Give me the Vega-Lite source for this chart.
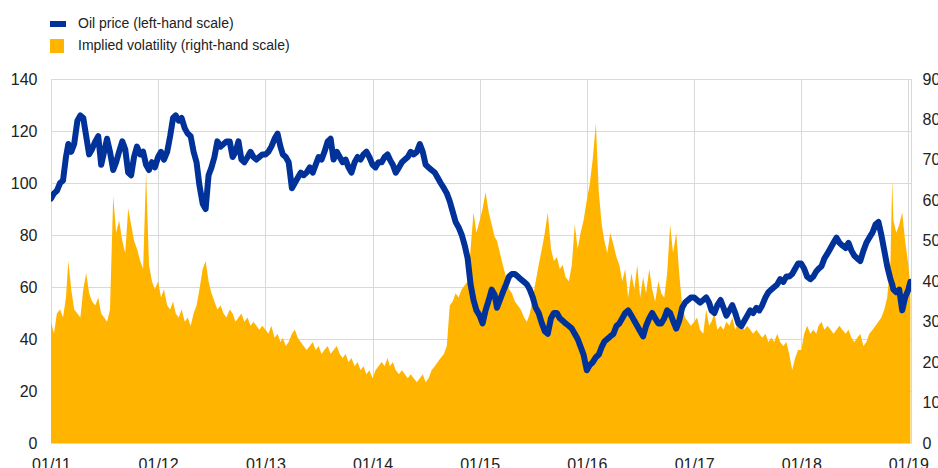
{
"$schema": "https://vega.github.io/schema/vega-lite/v6.json",
"width": 860, "height": 364,
"autosize": {"type": "none"},
"padding": {"left": 51, "top": 79, "right": 27, "bottom": 25},
"datasets": {"d": [
{"t":"2011-01-01","o":94,"v":30},{"t":"2011-01-11","o":96,"v":27},{"t":"2011-01-21","o":97,"v":32},
{"t":"2011-02-01","o":100,"v":33},{"t":"2011-02-11","o":101,"v":31},{"t":"2011-02-21","o":110,"v":36},
{"t":"2011-03-01","o":115,"v":45},{"t":"2011-03-11","o":112,"v":38},{"t":"2011-03-21","o":115,"v":33},
{"t":"2011-04-01","o":124,"v":32},{"t":"2011-04-11","o":126,"v":31},{"t":"2011-04-21","o":125,"v":38},
{"t":"2011-05-01","o":118,"v":42},{"t":"2011-05-11","o":111,"v":37},{"t":"2011-05-21","o":113,"v":35},
{"t":"2011-06-01","o":116,"v":34},{"t":"2011-06-11","o":118,"v":36},{"t":"2011-06-21","o":107,"v":32},
{"t":"2011-07-01","o":112,"v":31},{"t":"2011-07-11","o":117,"v":30},{"t":"2011-07-21","o":112,"v":33},
{"t":"2011-08-01","o":105,"v":61},{"t":"2011-08-11","o":108,"v":52},{"t":"2011-08-21","o":112,"v":55},
{"t":"2011-09-01","o":116,"v":50},{"t":"2011-09-11","o":113,"v":47},{"t":"2011-09-21","o":104,"v":58},
{"t":"2011-10-01","o":103,"v":54},{"t":"2011-10-11","o":110,"v":50},{"t":"2011-10-21","o":114,"v":48},
{"t":"2011-11-01","o":111,"v":45},{"t":"2011-11-11","o":112,"v":43},{"t":"2011-11-21","o":107,"v":67},
{"t":"2011-12-01","o":105,"v":44},{"t":"2011-12-11","o":108,"v":40},{"t":"2011-12-21","o":106,"v":38},
{"t":"2012-01-01","o":110,"v":40},{"t":"2012-01-11","o":112,"v":36},{"t":"2012-01-21","o":109,"v":38},
{"t":"2012-02-01","o":112,"v":34},{"t":"2012-02-11","o":118,"v":33},{"t":"2012-02-21","o":125,"v":35},
{"t":"2012-03-01","o":126,"v":32},{"t":"2012-03-11","o":124,"v":31},{"t":"2012-03-21","o":125,"v":33},
{"t":"2012-04-01","o":121,"v":30},{"t":"2012-04-11","o":119,"v":31},{"t":"2012-04-21","o":118,"v":29},
{"t":"2012-05-01","o":112,"v":32},{"t":"2012-05-11","o":108,"v":34},{"t":"2012-05-21","o":99,"v":38},
{"t":"2012-06-01","o":92,"v":43},{"t":"2012-06-11","o":90,"v":45},{"t":"2012-06-21","o":103,"v":40},
{"t":"2012-07-01","o":106,"v":37},{"t":"2012-07-11","o":110,"v":35},{"t":"2012-07-21","o":116,"v":33},
{"t":"2012-08-01","o":114,"v":34},{"t":"2012-08-11","o":115,"v":32},{"t":"2012-08-21","o":116,"v":31},
{"t":"2012-09-01","o":116,"v":33},{"t":"2012-09-11","o":110,"v":32},{"t":"2012-09-21","o":112,"v":30},
{"t":"2012-10-01","o":116,"v":31},{"t":"2012-10-11","o":109,"v":32},{"t":"2012-10-21","o":108,"v":30},
{"t":"2012-11-01","o":110,"v":31},{"t":"2012-11-11","o":112,"v":29},{"t":"2012-11-21","o":110,"v":30},
{"t":"2012-12-01","o":109,"v":29},{"t":"2012-12-11","o":110,"v":28},{"t":"2012-12-21","o":111,"v":29},
{"t":"2013-01-01","o":111,"v":28},{"t":"2013-01-11","o":112,"v":27},{"t":"2013-01-21","o":114,"v":29},
{"t":"2013-02-01","o":117,"v":26},{"t":"2013-02-11","o":119,"v":27},{"t":"2013-02-21","o":114,"v":25},
{"t":"2013-03-01","o":111,"v":26},{"t":"2013-03-11","o":110,"v":24},{"t":"2013-03-21","o":108,"v":25},
{"t":"2013-04-01","o":98,"v":27},{"t":"2013-04-11","o":100,"v":28},{"t":"2013-04-21","o":102,"v":26},
{"t":"2013-05-01","o":104,"v":25},{"t":"2013-05-11","o":103,"v":24},{"t":"2013-05-21","o":104,"v":23},
{"t":"2013-06-01","o":106,"v":24},{"t":"2013-06-11","o":104,"v":25},{"t":"2013-06-21","o":107,"v":23},
{"t":"2013-07-01","o":110,"v":24},{"t":"2013-07-11","o":109,"v":22},{"t":"2013-07-21","o":112,"v":23},
{"t":"2013-08-01","o":116,"v":24},{"t":"2013-08-11","o":117,"v":22},{"t":"2013-08-21","o":109,"v":23},
{"t":"2013-09-01","o":112,"v":24},{"t":"2013-09-11","o":110,"v":22},{"t":"2013-09-21","o":108,"v":21},
{"t":"2013-10-01","o":109,"v":22},{"t":"2013-10-11","o":106,"v":20},{"t":"2013-10-21","o":104,"v":21},
{"t":"2013-11-01","o":108,"v":19},{"t":"2013-11-11","o":110,"v":20},{"t":"2013-11-21","o":109,"v":18},
{"t":"2013-12-01","o":111,"v":19},{"t":"2013-12-11","o":112,"v":17},{"t":"2013-12-21","o":110,"v":18},
{"t":"2014-01-01","o":107,"v":16},{"t":"2014-01-11","o":106,"v":18},{"t":"2014-01-21","o":108,"v":19},
{"t":"2014-02-01","o":108,"v":20},{"t":"2014-02-11","o":110,"v":19},{"t":"2014-02-21","o":111,"v":21},
{"t":"2014-03-01","o":109,"v":19},{"t":"2014-03-11","o":107,"v":20},{"t":"2014-03-21","o":104,"v":18},
{"t":"2014-04-01","o":106,"v":17},{"t":"2014-04-11","o":108,"v":18},{"t":"2014-04-21","o":109,"v":17},
{"t":"2014-05-01","o":110,"v":16},{"t":"2014-05-11","o":112,"v":17},{"t":"2014-05-21","o":111,"v":16},
{"t":"2014-06-01","o":112,"v":15},{"t":"2014-06-11","o":115,"v":16},{"t":"2014-06-21","o":112,"v":17},
{"t":"2014-07-01","o":107,"v":15},{"t":"2014-07-11","o":106,"v":16},{"t":"2014-07-21","o":105,"v":18},
{"t":"2014-08-01","o":104,"v":19},{"t":"2014-08-11","o":102,"v":20},{"t":"2014-08-21","o":100,"v":21},
{"t":"2014-09-01","o":98,"v":22},{"t":"2014-09-11","o":96,"v":24},{"t":"2014-09-21","o":93,"v":34},
{"t":"2014-10-01","o":89,"v":35},{"t":"2014-10-11","o":85,"v":37},{"t":"2014-10-21","o":83,"v":36},
{"t":"2014-11-01","o":80,"v":38},{"t":"2014-11-11","o":76,"v":39},{"t":"2014-11-21","o":71,"v":40},
{"t":"2014-12-01","o":61,"v":48},{"t":"2014-12-11","o":55,"v":57},{"t":"2014-12-21","o":51,"v":52},
{"t":"2015-01-01","o":49,"v":55},{"t":"2015-01-11","o":46,"v":58},{"t":"2015-01-21","o":51,"v":62},
{"t":"2015-02-01","o":55,"v":57},{"t":"2015-02-11","o":59,"v":54},{"t":"2015-02-21","o":57,"v":51},
{"t":"2015-03-01","o":52,"v":50},{"t":"2015-03-11","o":55,"v":47},{"t":"2015-03-21","o":58,"v":44},
{"t":"2015-04-01","o":61,"v":41},{"t":"2015-04-11","o":64,"v":38},{"t":"2015-04-21","o":65,"v":37},
{"t":"2015-05-01","o":65,"v":35},{"t":"2015-05-11","o":64,"v":34},{"t":"2015-05-21","o":63,"v":33},
{"t":"2015-06-01","o":62,"v":31},{"t":"2015-06-11","o":61,"v":30},{"t":"2015-06-21","o":59,"v":32},
{"t":"2015-07-01","o":56,"v":36},{"t":"2015-07-11","o":52,"v":40},{"t":"2015-07-21","o":50,"v":44},
{"t":"2015-08-01","o":46,"v":48},{"t":"2015-08-11","o":43,"v":52},{"t":"2015-08-21","o":42,"v":57},
{"t":"2015-09-01","o":48,"v":48},{"t":"2015-09-11","o":50,"v":45},{"t":"2015-09-21","o":50,"v":46},
{"t":"2015-10-01","o":48,"v":43},{"t":"2015-10-11","o":47,"v":44},{"t":"2015-10-21","o":46,"v":41},
{"t":"2015-11-01","o":45,"v":40},{"t":"2015-11-11","o":44,"v":44},{"t":"2015-11-21","o":42,"v":54},
{"t":"2015-12-01","o":40,"v":48},{"t":"2015-12-11","o":37,"v":52},{"t":"2015-12-21","o":34,"v":55},
{"t":"2016-01-01","o":28,"v":60},{"t":"2016-01-11","o":30,"v":64},{"t":"2016-01-21","o":31,"v":70},
{"t":"2016-02-01","o":33,"v":79},{"t":"2016-02-11","o":34,"v":62},{"t":"2016-02-21","o":37,"v":54},
{"t":"2016-03-01","o":39,"v":50},{"t":"2016-03-11","o":40,"v":47},{"t":"2016-03-21","o":41,"v":52},
{"t":"2016-04-01","o":42,"v":49},{"t":"2016-04-11","o":45,"v":46},{"t":"2016-04-21","o":46,"v":44},
{"t":"2016-05-01","o":48,"v":40},{"t":"2016-05-11","o":50,"v":43},{"t":"2016-05-21","o":51,"v":36},
{"t":"2016-06-01","o":49,"v":42},{"t":"2016-06-11","o":47,"v":38},{"t":"2016-06-21","o":45,"v":44},
{"t":"2016-07-01","o":43,"v":36},{"t":"2016-07-11","o":41,"v":41},{"t":"2016-07-21","o":45,"v":37},
{"t":"2016-08-01","o":48,"v":43},{"t":"2016-08-11","o":50,"v":38},{"t":"2016-08-21","o":48,"v":35},
{"t":"2016-09-01","o":46,"v":40},{"t":"2016-09-11","o":46,"v":37},{"t":"2016-09-21","o":48,"v":36},
{"t":"2016-10-01","o":51,"v":42},{"t":"2016-10-11","o":50,"v":54},{"t":"2016-10-21","o":47,"v":47},
{"t":"2016-11-01","o":44,"v":52},{"t":"2016-11-11","o":47,"v":42},{"t":"2016-11-21","o":52,"v":34},
{"t":"2016-12-01","o":54,"v":31},{"t":"2016-12-11","o":55,"v":30},{"t":"2016-12-21","o":56,"v":29},
{"t":"2017-01-01","o":56,"v":30},{"t":"2017-01-11","o":55,"v":31},{"t":"2017-01-21","o":54,"v":28},
{"t":"2017-02-01","o":55,"v":27},{"t":"2017-02-11","o":56,"v":33},{"t":"2017-02-21","o":54,"v":29},
{"t":"2017-03-01","o":51,"v":30},{"t":"2017-03-11","o":50,"v":32},{"t":"2017-03-21","o":53,"v":28},
{"t":"2017-04-01","o":55,"v":29},{"t":"2017-04-11","o":52,"v":28},{"t":"2017-04-21","o":49,"v":30},
{"t":"2017-05-01","o":51,"v":29},{"t":"2017-05-11","o":53,"v":31},{"t":"2017-05-21","o":50,"v":28},
{"t":"2017-06-01","o":46,"v":30},{"t":"2017-06-11","o":45,"v":29},{"t":"2017-06-21","o":47,"v":28},
{"t":"2017-07-01","o":49,"v":29},{"t":"2017-07-11","o":51,"v":28},{"t":"2017-07-21","o":50,"v":27},
{"t":"2017-08-01","o":52,"v":28},{"t":"2017-08-11","o":51,"v":27},{"t":"2017-08-21","o":53,"v":26},
{"t":"2017-09-01","o":56,"v":27},{"t":"2017-09-11","o":58,"v":25},{"t":"2017-09-21","o":59,"v":26},
{"t":"2017-10-01","o":60,"v":25},{"t":"2017-10-11","o":61,"v":27},{"t":"2017-10-21","o":63,"v":25},
{"t":"2017-11-01","o":62,"v":24},{"t":"2017-11-11","o":64,"v":25},{"t":"2017-11-21","o":64,"v":22},
{"t":"2017-12-01","o":65,"v":18},{"t":"2017-12-11","o":67,"v":21},{"t":"2017-12-21","o":69,"v":23},
{"t":"2018-01-01","o":69,"v":23},{"t":"2018-01-11","o":67,"v":27},{"t":"2018-01-21","o":64,"v":29},
{"t":"2018-02-01","o":63,"v":27},{"t":"2018-02-11","o":64,"v":28},{"t":"2018-02-21","o":66,"v":27},
{"t":"2018-03-01","o":67,"v":29},{"t":"2018-03-11","o":68,"v":30},{"t":"2018-03-21","o":71,"v":28},
{"t":"2018-04-01","o":73,"v":29},{"t":"2018-04-11","o":75,"v":28},{"t":"2018-04-21","o":77,"v":27},
{"t":"2018-05-01","o":79,"v":28},{"t":"2018-05-11","o":77,"v":29},{"t":"2018-05-21","o":76,"v":28},
{"t":"2018-06-01","o":75,"v":27},{"t":"2018-06-11","o":77,"v":28},{"t":"2018-06-21","o":74,"v":26},
{"t":"2018-07-01","o":72,"v":25},{"t":"2018-07-11","o":71,"v":26},{"t":"2018-07-21","o":70,"v":27},
{"t":"2018-08-01","o":74,"v":24},{"t":"2018-08-11","o":77,"v":25},{"t":"2018-08-21","o":79,"v":27},
{"t":"2018-09-01","o":81,"v":28},{"t":"2018-09-11","o":84,"v":29},{"t":"2018-09-21","o":85,"v":30},
{"t":"2018-10-01","o":80,"v":31},{"t":"2018-10-11","o":74,"v":33},{"t":"2018-10-21","o":68,"v":36},
{"t":"2018-11-01","o":63,"v":45},{"t":"2018-11-07","o":61,"v":65},{"t":"2018-11-11","o":59,"v":55},
{"t":"2018-11-21","o":58,"v":52},{"t":"2018-12-01","o":59,"v":54},{"t":"2018-12-11","o":51,"v":57},
{"t":"2018-12-21","o":56,"v":50},{"t":"2019-01-01","o":59,"v":44},{"t":"2019-01-08","o":62,"v":38}
]},
"data": {"name": "d"},
"encoding": {
  "x": {"field": "t", "type": "temporal",
    "scale": {"type": "utc", "domain": [{"year": 2011, "month": 1, "date": 1, "utc": true}, {"year": 2019, "month": 1, "date": 10, "utc": true}]},
    "axis": {"title": null, "labelExpr": "utcFormat(datum.value, '%m/%y')",
      "values": [
        {"year": 2011, "month": 1, "date": 1, "utc": true},
        {"year": 2012, "month": 1, "date": 1, "utc": true},
        {"year": 2013, "month": 1, "date": 1, "utc": true},
        {"year": 2014, "month": 1, "date": 1, "utc": true},
        {"year": 2015, "month": 1, "date": 1, "utc": true},
        {"year": 2016, "month": 1, "date": 1, "utc": true},
        {"year": 2017, "month": 1, "date": 1, "utc": true},
        {"year": 2018, "month": 1, "date": 1, "utc": true},
        {"year": 2019, "month": 1, "date": 1, "utc": true}],
      "grid": true, "labelPadding": 13, "labelOverlap": false, "labelFlush": false, "labelBound": false}
  }
},
"layer": [
  {
    "mark": {"type": "area", "clip": true},
    "encoding": {
      "y": {"field": "v", "type": "quantitative",
        "scale": {"domain": [0, 90], "nice": false},
        "axis": {"orient": "right", "title": null, "values": [0, 10, 20, 30, 40, 50, 60, 70, 80, 90], "grid": false, "labelPadding": 11}},
      "fill": {"datum": "Implied volatility (right-hand scale)", "type": "nominal",
        "scale": {"range": ["#FFB400"]},
        "legend": {"title": null, "orient": "none", "legendX": -1, "legendY": -40, "padding": 0,
          "symbolType": "square", "symbolSize": 196, "symbolStrokeWidth": 0, "labelOffset": 14,
          "labelFontSize": 14, "labelColor": "#222222", "labelLimit": 400}}
    }
  },
  {
    "mark": {"type": "line", "strokeWidth": 6, "strokeCap": "round", "strokeJoin": "round", "clip": true},
    "encoding": {
      "y": {"field": "o", "type": "quantitative",
        "scale": {"domain": [0, 140], "nice": false},
        "axis": {"orient": "left", "title": null, "values": [0, 20, 40, 60, 80, 100, 120, 140], "grid": true, "labelPadding": 14}},
      "stroke": {"datum": "Oil price (left-hand scale)", "type": "nominal",
        "scale": {"range": ["#003299"]},
        "legend": {"title": null, "orient": "none", "legendX": -4, "legendY": -66, "padding": 0,
          "symbolType": "stroke", "symbolSize": 256, "symbolStrokeWidth": 6, "labelOffset": 9,
          "labelFontSize": 14, "labelColor": "#222222", "labelLimit": 400}}
    }
  }
],
"resolve": {"scale": {"y": "independent"}},
"config": {
  "font": "Liberation Sans",
  "view": {"stroke": null},
  "axis": {"labelFontSize": 16, "labelColor": "#222222", "ticks": false, "gridColor": "#d9d9d9", "gridWidth": 1, "domainColor": "#d9d9d9", "domainWidth": 1},
  "legend": {"labelFont": "Liberation Sans"}
}
}
